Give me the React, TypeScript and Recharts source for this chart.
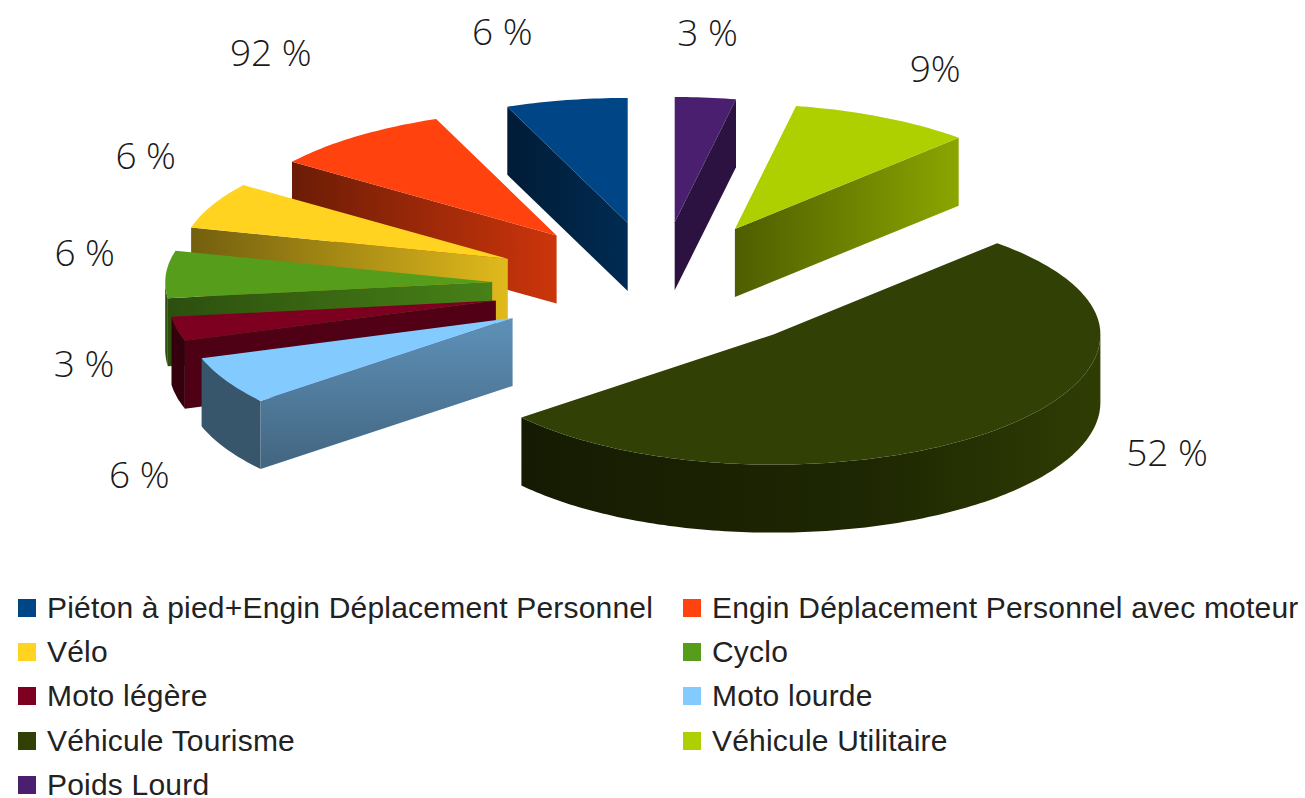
import { PieChart, Pie, Legend } from "recharts";

const CATEGORIES = [
  "Piéton à pied+Engin Déplacement Personnel",
  "Engin Déplacement Personnel avec moteur",
  "Vélo",
  "Cyclo",
  "Moto légère",
  "Moto lourde",
  "Véhicule Tourisme",
  "Véhicule Utilitaire",
  "Poids Lourd",
];
const VALUES = [6, 9, 6, 6, 3, 6, 52, 9, 3];
const LABELS = ["6 %", "92 %", "6 %", "6 %", "3 %", "6 %", "52 %", "9%", "3 %"];
const COLORS = ["#004586", "#ff420e", "#ffd320", "#579d1c", "#7e0021", "#83caff", "#314004", "#aecf00", "#4b1f6f"];

// side shading per slice, [from, to] brightness
const FACE_SHADE = [
  [0.4, 0.62], [0.42, 0.8], [0.45, 0.88], [0.5, 0.82], [0.62, 0.66],
  [0.72, 0.5], [0.5, 0.5], [0.45, 0.8], [0.58, 0.58],
];
const WALL_SHADE = [
  [0.5, 0.5], [0.5, 0.5], [0.5, 0.5], [0.5, 0.5], [0.42, 0.42],
  [0.42, 0.42], [0.42, 0.95], [0.5, 0.5], [0.5, 0.5],
];
// label position tweaks, px
const LABEL_NUDGE = [
  [-34, -9], [13, -36], [79, -25], [79, -19], [64, 20], [54, 62], [60, -24], [-21, 5], [-13, -5],
];

const CX = 659;
const CY = 286;
const RADIUS = 327;
const LABEL_REACH = 487.5;
const TILT_BACK = 0.383;
const TILT_FRONT = 0.398;
const DEPTH = 68;
const EXPLODE = 0.511;
const VERTICAL_FACE = 5; // the moto lourde side is lit top to bottom

const data = CATEGORIES.map((name, i) => ({ name, value: VALUES[i], fill: COLORS[i] }));

const rad = (deg: number) => (deg * Math.PI) / 180;

function shade(hex: string, k: number) {
  const n = parseInt(hex.slice(1), 16);
  const f = (v: number) => Math.round(v * k);
  return `rgb(${f(n >> 16)},${f((n >> 8) & 255)},${f(n & 255)})`;
}

// ground plane -> screen
function project(cx: number, cy: number, r: number, deg: number) {
  const s = Math.sin(rad(deg));
  return { x: cx + r * Math.cos(rad(deg)), y: cy - r * (s < 0 ? TILT_FRONT : TILT_BACK) * s };
}

function pts(list: { x: number; y: number }[]) {
  return list.map((p) => `${p.x.toFixed(1)},${p.y.toFixed(1)}`).join(" ");
}

function ExtrudedSlice(props: any) {
  const { cx, cy, outerRadius, startAngle, endAngle, midAngle, fill, index } = props;
  const mid = midAngle ?? (startAngle + endAngle) / 2;
  const apex = project(cx, cy, outerRadius * EXPLODE, mid);
  const arc: { x: number; y: number }[] = [];
  const wallAngles: number[] = [];
  const steps = Math.ceil(endAngle - startAngle);
  for (let s = 0; s <= steps; s++) {
    const a = startAngle + ((endAngle - startAngle) * s) / steps;
    arc.push(project(apex.x, apex.y, outerRadius, a));
    if (Math.sin(rad(a)) <= 0.001) wallAngles.push(a);
  }
  const midRim = project(apex.x, apex.y, outerRadius, mid);

  const faces = [startAngle, endAngle]
    .map((a: number) => project(apex.x, apex.y, outerRadius, a))
    .filter((p) => {
      if (Math.abs(p.x - apex.x) < 1) return false;
      const lineY = apex.y + ((p.y - apex.y) / (p.x - apex.x)) * (midRim.x - apex.x);
      return midRim.y < lineY;
    });

  const wall = wallAngles.map((a) => project(apex.x, apex.y, outerRadius, a));
  const wallPoly = [...wall, ...wall.map((p) => ({ x: p.x, y: p.y + DEPTH })).reverse()];
  const faceId = `face-${index}`;
  const wallId = `wall-${index}`;
  const [fl, fr] = FACE_SHADE[index];
  const [wl, wr] = WALL_SHADE[index];
  const vertical = index === VERTICAL_FACE;

  return (
    <g>
      <defs>
        <linearGradient id={faceId} x1="0" y1="0" x2={vertical ? "0" : "1"} y2={vertical ? "1" : "0"}>
          <stop offset="0" stopColor={shade(fill, fl)} />
          <stop offset="1" stopColor={shade(fill, fr)} />
        </linearGradient>
        <linearGradient id={wallId} x1="0" y1="0" x2="1" y2="0">
          <stop offset="0" stopColor={shade(fill, wl)} />
          <stop offset="0.6" stopColor={shade(fill, wl + (wr - wl) * 0.35)} />
          <stop offset="1" stopColor={shade(fill, wr)} />
        </linearGradient>
      </defs>
      {wall.length > 1 && <polygon points={pts(wallPoly)} fill={`url(#${wallId})`} />}
      {faces.map((p, i) => (
        <polygon
          key={i}
          points={pts([apex, p, { x: p.x, y: p.y + DEPTH }, { x: apex.x, y: apex.y + DEPTH }])}
          fill={`url(#${faceId})`}
        />
      ))}
      <polygon points={pts([apex, ...arc])} fill={fill} />
    </g>
  );
}

function renderLabel(props: any) {
  const { index, midAngle } = props;
  const apex = project(CX, CY, RADIUS * EXPLODE, midAngle);
  const at = project(apex.x, apex.y, LABEL_REACH, midAngle);
  return (
    <text
      x={at.x + LABEL_NUDGE[index][0]}
      y={at.y + LABEL_NUDGE[index][1]}
      textAnchor="middle"
      dominantBaseline="central"
      fontFamily="'Open Sans', sans-serif"
      fontWeight={300}
      fontSize={37}
      fill="#1a1a1a"
    >
      {LABELS[index]}
    </text>
  );
}

function LegendGrid() {
  return (
    <div
      style={{
        display: "grid",
        gridTemplateColumns: "665px 620px",
        gridAutoRows: "44.2px",
        marginLeft: 18,
        fontFamily: "'Liberation Sans', sans-serif",
        fontSize: 30,
        lineHeight: "24px",
        letterSpacing: 0.2,
        color: "#222",
      }}
    >
      {CATEGORIES.map((name, i) => (
        <div key={name} style={{ display: "flex", alignItems: "center", whiteSpace: "nowrap" }}>
          <span style={{ width: 18, height: 18, background: COLORS[i], marginRight: 11, flex: "none" }} />
          {name}
        </div>
      ))}
    </div>
  );
}

export default function App() {
  return (
    <div style={{ position: "absolute", left: 0, top: 0 }}>
      <PieChart width={1305} height={798} margin={{ top: 0, right: 0, bottom: 0, left: 0 }}>
        <Pie
          data={data}
          dataKey="value"
          nameKey="name"
          cx={CX}
          cy={CY}
          innerRadius={0}
          outerRadius={RADIUS}
          startAngle={90}
          endAngle={450}
          stroke="none"
          shape={ExtrudedSlice}
          label={renderLabel}
          labelLine={false}
          isAnimationActive={false}
        />
        <Legend
          content={<LegendGrid />}
          wrapperStyle={{ left: 0, top: 586, bottom: "auto", width: 1305 }}
        />
      </PieChart>
    </div>
  );
}
